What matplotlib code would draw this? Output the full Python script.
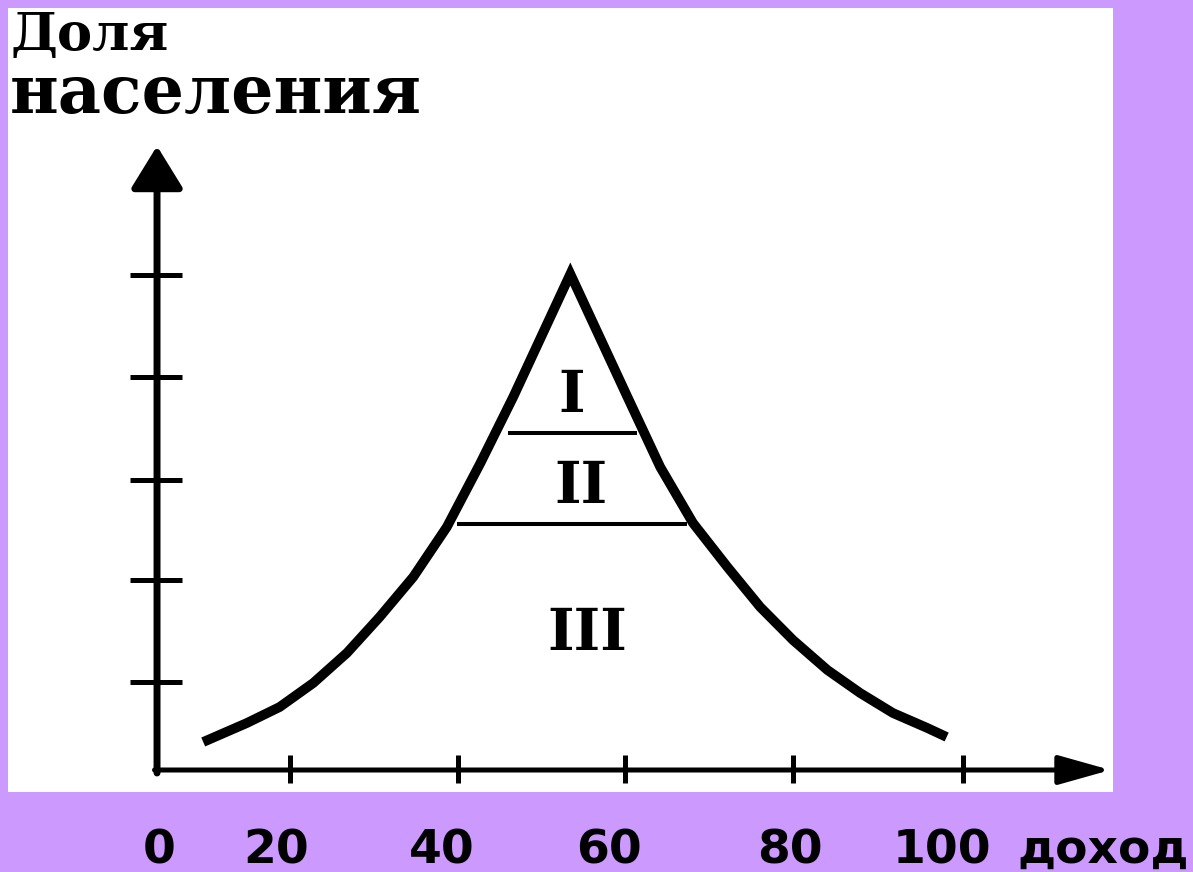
import numpy as np
import matplotlib
matplotlib.use("Agg")
import matplotlib.pyplot as plt

# distribution curve (income, population share)
curve_x = [5.5, 10.7, 14.6, 18.6, 22.6, 26.5, 30.5, 34.5, 38.5, 42.4,
           49.2, 56.0, 59.9, 63.8, 67.9, 71.8, 75.7, 79.8, 83.7,
           87.6, 91.7, 94.0]
curve_y = [2.8, 4.7, 6.3, 8.7, 11.7, 15.3, 19.3, 24.3, 30.7, 37.3,
           49.6, 37.3, 30.3, 24.7, 20.3, 16.3, 13.0, 10.0, 7.7,
           5.7, 4.2, 3.3]

# boundaries between groups I / II / III
band_y = [33.7, 24.6]
band_x0 = [41.8, 35.7]
band_x1 = [57.1, 63.1]
band_labels = ["I", "II", "III"]
band_label_x = [49.4, 50.5, 51.2]
band_label_y = [35.8, 26.7, 12.0]

# axis ticks (drawn marks) and the labels printed under the chart
xtick_pos = [15.8, 35.8, 55.7, 75.7, 96.0]
ytick_pos = [8.8, 19.0, 29.0, 39.3, 49.5]
xlabel_text = ["0", "20", "40", "60", "80", "100", "доход"]
xlabel_pos = [0.2, 14.2, 33.9, 53.8, 75.4, 93.4, 112.6]

bg = "#cc99ff"

fig = plt.figure(figsize=(11.93, 8.72), dpi=100, facecolor=bg)
ax = fig.add_axes([8 / 1193, 80 / 872, 1105 / 1193, 784 / 872])
ax.set_facecolor("white")
ax.set_xlim(-17.74, 113.8)
ax.set_ylim(-2.2, 76.2)
for s in ax.spines.values():
    s.set_visible(False)
ax.set_xticks([])
ax.set_yticks([])

# axes with arrows
ax.annotate("", xy=(0, 62.4), xytext=(0, -0.3),
            arrowprops=dict(arrowstyle="-|>,head_length=1.3,head_width=0.8",
                            lw=5, color="k", mutation_scale=20,
                            shrinkA=0, shrinkB=0))
ax.annotate("", xy=(113.5, 0), xytext=(-0.3, 0),
            arrowprops=dict(arrowstyle="-|>,head_length=1.6,head_width=0.45",
                            lw=3.6, color="k", mutation_scale=20,
                            shrinkA=0, shrinkB=0))

ax.hlines(ytick_pos, -3.2, 3.0, color="k", lw=3.6)
ax.vlines(xtick_pos, -1.3, 1.5, color="k", lw=3.6)

ax.plot(curve_x, curve_y, color="k", lw=7, solid_joinstyle="miter",
        solid_capstyle="butt")
ax.hlines(band_y, band_x0, band_x1, color="k", lw=2.9)

for lab, x, y in zip(band_labels, band_label_x, band_label_y):
    ax.text(x, y, lab, family="DejaVu Serif", weight="bold", fontsize=41,
            ha="center", va="baseline")

ax.text(-17.5, 72.0, "Доля", family="DejaVu Serif", weight="bold",
        fontsize=38, ha="left", va="baseline")
ax.text(-17.5, 65.7, "населения", family="DejaVu Serif", weight="bold",
        fontsize=48, ha="left", va="baseline")

for lab, x in zip(xlabel_text, xlabel_pos):
    ax.text(x, -9.3, lab, family="DejaVu Sans", weight="bold", fontsize=34,
            ha="center", va="baseline", clip_on=False)

fig.savefig("out.png", dpi=100, facecolor=bg)
